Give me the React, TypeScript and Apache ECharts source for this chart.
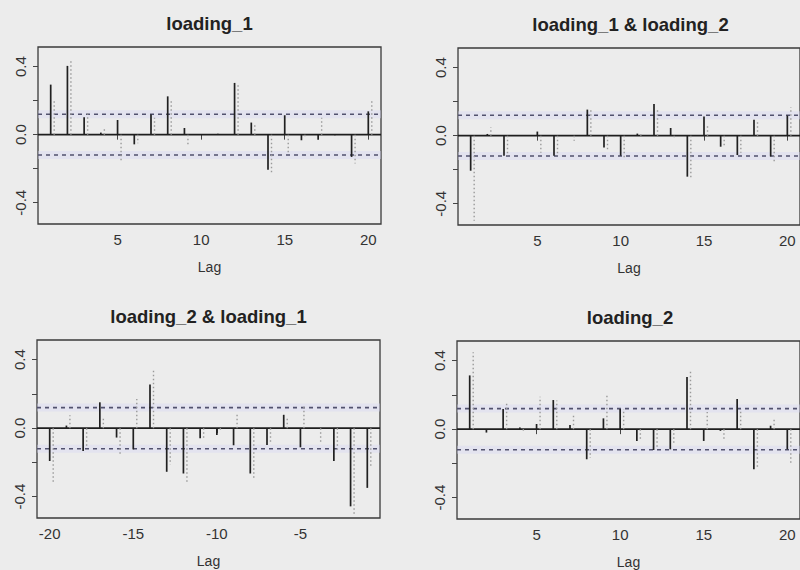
import React, { useEffect, useRef } from "react";
import * as echarts from "echarts";

// Lags used by the four partial-correlation panels
const lagsPos = [1, 2, 3, 4, 5, 6, 7, 8, 9, 10, 11, 12, 13, 14, 15, 16, 17, 18, 19, 20];
const lagsNeg = [-20, -19, -18, -17, -16, -15, -14, -13, -12, -11, -10, -9, -8, -7, -6, -5, -4, -3, -2, -1];

const titles = ["loading_1", "loading_1 & loading_2", "loading_2 & loading_1", "loading_2"];
const axisName = "Lag";

// Approximate 95% bound (±1.96/sqrt(n))
const confLimit = 0.12;

const yTicks = [-0.4, -0.2, 0, 0.2, 0.4];
const yLabels = [-0.4, 0, 0.4];
const xTicksPos = [5, 10, 15, 20];
const xTicksNeg = [-20, -15, -10, -5];

// Main spikes
const acf11 = [0.294, 0.404, 0.102, 0.012, 0.086, -0.057, 0.118, 0.225, 0.039, 0.004, 0.005, 0.304, 0.071, -0.206, 0.114, -0.033, -0.03, -0.004, -0.131, 0.137];
const acf12 = [-0.206, 0.01, -0.118, 0.0, 0.024, -0.118, 0.0, 0.153, -0.069, -0.118, 0.012, 0.186, 0.045, -0.241, 0.112, -0.065, -0.114, 0.094, -0.122, 0.118];
const acf21 = [-0.192, 0.015, -0.133, 0.151, -0.055, -0.124, 0.255, -0.255, -0.265, -0.059, -0.04, -0.1, -0.265, -0.098, 0.078, -0.112, 0.0, -0.192, -0.457, -0.349];
const acf22 = [0.314, -0.02, 0.118, 0.01, 0.03, 0.17, 0.024, -0.176, 0.063, 0.118, -0.069, -0.122, -0.118, 0.304, -0.069, -0.01, 0.176, -0.235, 0.02, -0.118];

// Faint dotted companion spikes drawn just right of each lag
const faint11 = [0.21, 0.437, 0.14, 0.045, -0.15, -0.05, 0.1, 0.21, -0.06, 0.0, 0.0, 0.29, 0.06, -0.23, -0.11, -0.02, 0.1, 0.0, -0.17, 0.21];
const faint12 = [-0.5, 0.05, -0.12, 0.0, -0.1, -0.12, -0.03, 0.157, -0.09, -0.127, 0.02, 0.157, -0.02, -0.245, 0.07, -0.07, -0.1, 0.08, -0.16, 0.167];
const faint21 = [-0.32, 0.075, -0.118, 0.065, -0.157, 0.17, 0.343, -0.212, -0.314, -0.06, -0.02, 0.09, -0.304, -0.08, 0.063, 0.14, -0.09, -0.137, -0.51, -0.22];
const faint22 = [0.45, 0.0, 0.16, -0.02, 0.19, 0.167, 0.08, -0.167, 0.2, 0.118, -0.07, -0.118, -0.09, 0.343, 0.1, -0.06, 0.118, -0.225, 0.07, -0.206];

const FONT = "'Liberation Sans', Arial, sans-serif";

const panels = [
  { lags: lagsPos, acf: acf11, faint: faint11, ticks: xTicksPos, title: titles[0], rect: { left: 38, top: 47, width: 343, height: 177 } },
  { lags: lagsPos, acf: acf12, faint: faint12, ticks: xTicksPos, title: titles[1], rect: { left: 458, top: 48, width: 345, height: 177 } },
  { lags: lagsNeg, acf: acf21, faint: faint21, ticks: xTicksNeg, title: titles[2], rect: { left: 37, top: 340, width: 343, height: 178 } },
  { lags: lagsPos, acf: acf22, faint: faint22, ticks: xTicksPos, title: titles[3], rect: { left: 457, top: 341, width: 346, height: 178 } },
];

function buildOption() {
  const grid: any[] = [];
  const xAxis: any[] = [];
  const yAxis: any[] = [];
  const series: any[] = [];
  const graphic: any[] = [];

  panels.forEach((p, i) => {
    const lo = Math.min(...p.lags);
    const hi = Math.max(...p.lags);
    const pad = (hi - lo) * 0.04;

    grid.push({
      left: p.rect.left,
      top: p.rect.top,
      width: p.rect.width,
      height: p.rect.height,
      show: true,
      borderColor: "#3a3a3a",
      borderWidth: 1.3,
      backgroundColor: "transparent",
    });

    xAxis.push({
      type: "value",
      gridIndex: i,
      min: lo - pad,
      max: hi + pad,
      axisLine: { show: false },
      splitLine: { show: false },
      axisTick: { show: true, customValues: p.ticks, length: 5, lineStyle: { color: "#444", width: 1 } },
      axisLabel: { customValues: p.ticks, fontSize: 15, color: "#333", fontFamily: FONT, margin: 8 },
      name: axisName,
      nameLocation: "middle",
      nameGap: 36,
      nameTextStyle: { fontSize: 14, color: "#333", fontFamily: FONT },
    });

    yAxis.push({
      type: "value",
      gridIndex: i,
      min: -0.525,
      max: 0.515,
      axisLine: { show: false },
      splitLine: { show: false },
      axisTick: { show: true, customValues: yTicks, length: 5, lineStyle: { color: "#444", width: 1 } },
      axisLabel: {
        customValues: yLabels,
        rotate: 90,
        fontSize: 15,
        color: "#333",
        fontFamily: FONT,
        margin: 10,
        formatter: (v: number) => v.toFixed(1),
      },
    });

    // confidence bounds: soft halo, then dashed line
    series.push({
      type: "custom",
      xAxisIndex: i,
      yAxisIndex: i,
      silent: true,
      data: [[0, confLimit], [0, -confLimit]],
      renderItem: (params: any, api: any) => {
        const cs = params.coordSys;
        const y = api.coord([api.value(0), api.value(1)])[1];
        return {
          type: "group",
          children: [
            {
              type: "line",
              shape: { x1: cs.x, y1: y, x2: cs.x + cs.width, y2: y },
              style: { stroke: "rgba(215,215,245,0.4)", lineWidth: 8 },
            },
            {
              type: "line",
              shape: { x1: cs.x, y1: y, x2: cs.x + cs.width, y2: y },
              style: { stroke: "#52526e", lineWidth: 1.6, lineDash: [4, 4] },
            },
          ],
        };
      },
    });

    // zero line
    series.push({
      type: "custom",
      xAxisIndex: i,
      yAxisIndex: i,
      silent: true,
      data: [[0, 0]],
      renderItem: (params: any, api: any) => {
        const cs = params.coordSys;
        const y = api.coord([api.value(0), api.value(1)])[1];
        return {
          type: "line",
          shape: { x1: cs.x, y1: y, x2: cs.x + cs.width, y2: y },
          style: { stroke: "#1e1e1e", lineWidth: 1.8 },
        };
      },
    });

    const spike = (dx: number, style: any) => (params: any, api: any) => {
      const x = api.value(0);
      const v = api.value(1);
      const p0 = api.coord([x, 0]);
      const p1 = api.coord([x, v]);
      return {
        type: "line",
        shape: { x1: p0[0] + dx, y1: p0[1], x2: p1[0] + dx, y2: p1[1] },
        style,
      };
    };

    // faint dotted companions
    series.push({
      type: "custom",
      xAxisIndex: i,
      yAxisIndex: i,
      silent: true,
      data: p.lags.map((l, k) => [l, p.faint[k]]),
      renderItem: spike(3.5, { stroke: "#9a9a9a", lineWidth: 1.4, lineDash: [1.5, 2.5] }),
    });

    // main spikes
    series.push({
      type: "custom",
      xAxisIndex: i,
      yAxisIndex: i,
      silent: true,
      data: p.lags.map((l, k) => [l, p.acf[k]]),
      renderItem: spike(0, { stroke: "#202020", lineWidth: 1.7 }),
    });

    graphic.push({
      type: "text",
      x: p.rect.left + p.rect.width / 2,
      y: p.rect.top - 24,
      style: {
        text: p.title,
        align: "center",
        verticalAlign: "middle",
        fontSize: 18.5,
        fontWeight: "bold",
        fontFamily: FONT,
        fill: "#222",
      },
    });
  });

  return {
    animation: false,
    backgroundColor: "#ececec",
    grid,
    xAxis,
    yAxis,
    series,
    graphic,
  };
}

export default function App() {
  const ref = useRef<HTMLDivElement>(null);

  useEffect(() => {
    if (!ref.current) return;
    const chart = echarts.init(ref.current, undefined, { renderer: "svg" });
    chart.setOption(buildOption() as any);
    return () => chart.dispose();
  }, []);

  return (
    <div
      ref={ref}
      style={{ position: "absolute", left: 0, top: 0, width: 800, height: 570, background: "#ececec" }}
    />
  );
}
